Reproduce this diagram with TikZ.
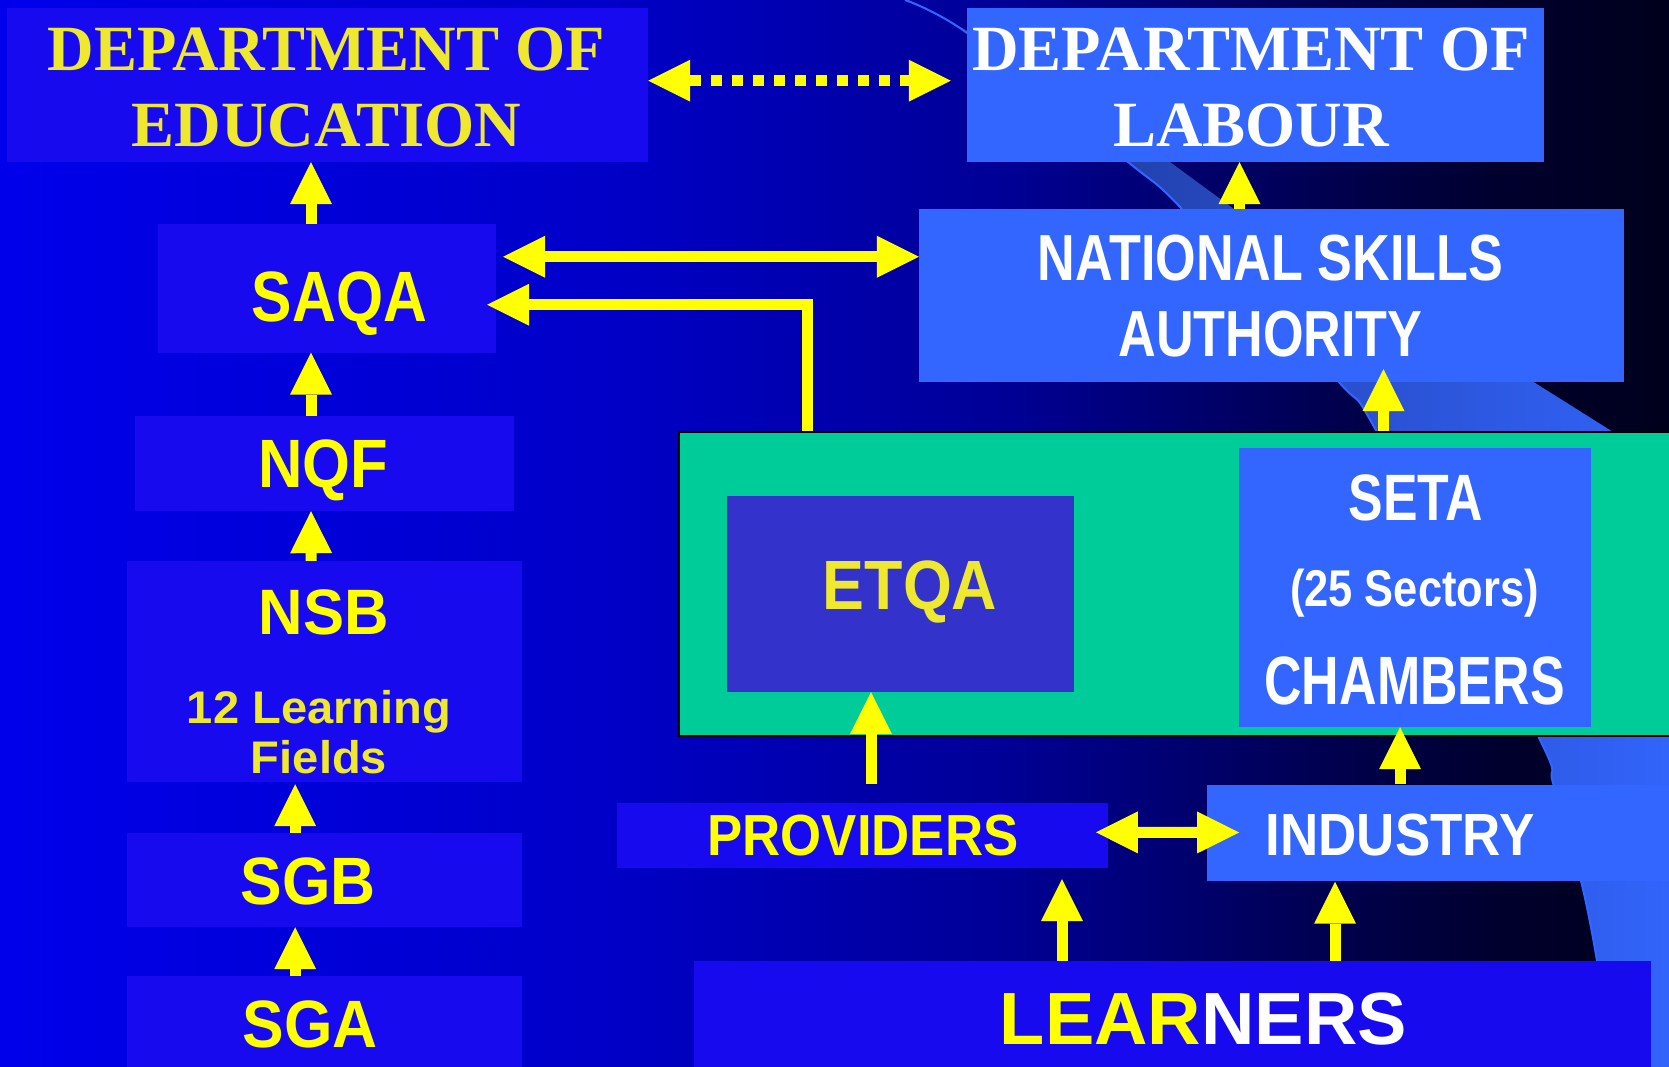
\documentclass[tikz,border=0pt]{standalone}
\usepackage{fontspec}
\setmainfont{Liberation Serif}
\setsansfont{Liberation Sans}
\usetikzlibrary{arrows.meta}

\definecolor{boxdark}{RGB}{24,10,238}
\definecolor{boxlight}{RGB}{51,102,255}
\definecolor{etqablue}{RGB}{51,51,204}
\definecolor{framegreen}{RGB}{0,204,153}
\definecolor{arrowyellow}{RGB}{255,255,0}
\definecolor{paleyellow}{RGB}{238,232,46}
\definecolor{swooshdark}{RGB}{28,52,144}
\definecolor{bgA}{RGB}{0,0,235}
\definecolor{bgB}{RGB}{0,0,200}
\definecolor{bgC}{RGB}{0,0,150}
\definecolor{bgD}{RGB}{0,0,85}
\definecolor{bgE}{RGB}{0,0,45}
\definecolor{bgF}{RGB}{0,0,28}

% blue to near black, left to right
\pgfdeclarehorizontalshading{slidebg}{100bp}{color(0bp)=(bgA); color(25bp)=(bgA);
  color(43bp)=(bgB); color(55bp)=(bgC); color(64bp)=(bgD); color(70bp)=(bgE);
  color(75bp)=(bgF); color(100bp)=(bgF)}

% size, line skip, horizontal stretch
\newcommand\boxfont[3]{\sffamily\bfseries\fontsize{#1}{#2}\selectfont\addfontfeatures{FakeStretch=#3}}

\tikzset{
  darkbox/.style={fill=boxdark, inner sep=0pt},
  lightbox/.style={fill=boxlight, inner sep=0pt},
  yellowflow/.style={draw=arrowyellow, line width=11pt, line join=miter},
  boxtext/.style={inner sep=0pt, align=center},
}

\begin{document}
\begin{tikzpicture}[x=1pt, y=-1pt, >={Triangle[length=42pt,width=42pt,line width=0pt]}]
\useasboundingbox (0,0) rectangle (1669,1067);
\clip (0,0) rectangle (1669,1067);

% backdrop and swoosh
\fill[shading=slidebg] (0,0) rectangle (1669,1067);
\fill[left color=swooshdark, right color=boxlight]
  plot[smooth] coordinates {(905,0) (967,33) (1128,162) (1182,209) (1338,381) (1377,432)
    (1538,736) (1553,783) (1581,881) (1597,961) (1612,1067)}
  -- (1700,1067) -- (1700,487) -- (1613,432) -- (1532,381) -- (1234,209)
  -- (1170,162) -- (968,31) -- (909,0) -- cycle;
\draw[boxlight, line width=2pt]
  plot[smooth] coordinates {(905,0) (967,33) (1128,162) (1182,209) (1338,381) (1377,432)
    (1538,736) (1553,783) (1581,881) (1597,961) (1612,1067)};

% boxes
\node[darkbox, minimum width=641pt, minimum height=154pt] (deped) at (327.5,85) {};
\node[lightbox, minimum width=577pt, minimum height=154pt] (labour) at (1255.5,85) {};
\node[darkbox, minimum width=338.5pt, minimum height=128.5pt] (saqa) at (326.75,288.25) {};
\node[lightbox, minimum width=705pt, minimum height=172.5pt] (nsa) at (1271.5,295.25) {};
\node[darkbox, minimum width=379pt, minimum height=95pt] (nqf) at (324.5,463.5) {};
\node[darkbox, minimum width=395pt, minimum height=221pt] (nsb) at (324.15,671.5) {};
\node[darkbox, minimum width=395pt, minimum height=94pt] (sgb) at (324.15,880) {};
\node[darkbox, minimum width=395pt, minimum height=114pt] (sga) at (324.15,1033) {};
\node[fill=framegreen, draw=black, line width=2pt, inner sep=0pt,
      minimum width=1021pt, minimum height=304pt] (sectors) at (1189.5,584) {};
\node[fill=etqablue, inner sep=0pt, minimum width=347pt, minimum height=196pt] (etqa) at (900.5,594) {};
\node[lightbox, minimum width=352pt, minimum height=279pt] (seta) at (1415,587.5) {};
\node[darkbox, minimum width=491pt, minimum height=65pt] (providers) at (862.5,835) {};
\node[lightbox, minimum width=493pt, minimum height=96pt] (industry) at (1453.5,832.5) {};
\node[darkbox, minimum width=957pt, minimum height=129pt] (learners) at (1172.5,1025.5) {};

% arrows
\draw[yellowflow, <->, dash pattern=on 11pt off 10pt]
  ([yshift=4.3pt]deped.east) -- ([xshift=-16pt,yshift=4.3pt]labour.west);
\draw[yellowflow, <->] ([xshift=7pt,yshift=31.5pt]saqa.east) -- ([yshift=38.5pt]nsa.west);
\draw[yellowflow, ->] ([xshift=-382.5pt]sectors.north) |- ([xshift=-9pt,yshift=-16.5pt]saqa.east);
\draw[yellowflow, ->] ([xshift=-15.75pt]saqa.north) -- ([xshift=-16.5pt]deped.south);
\draw[yellowflow, ->] ([xshift=-13.5pt]nqf.north) -- ([xshift=-15.75pt]saqa.south);
\draw[yellowflow, ->] ([xshift=-13pt]nsb.north) -- ([xshift=-13.5pt]nqf.south);
\draw[yellowflow, ->] ([xshift=-29pt]sgb.north) -- ([xshift=-29pt,yshift=-2pt]nsb.south);
\draw[yellowflow, ->] ([xshift=-29pt]sga.north) -- ([xshift=-29pt]sgb.south);
\draw[yellowflow, ->] ([xshift=-32pt]nsa.north) -- ([xshift=-16pt]labour.south);
\draw[yellowflow, ->] ([xshift=194pt]sectors.north) -- ([xshift=112pt,yshift=12.5pt]nsa.south);
\draw[yellowflow, ->] ([xshift=8.5pt,yshift=18.5pt]providers.north) -- ([xshift=-29.5pt]etqa.south);
\draw[yellowflow, ->] ([xshift=-53.5pt]industry.north) -- ([xshift=-15pt]seta.south);
\draw[yellowflow, <->] ([xshift=-12.3pt,yshift=2.7pt]providers.east) -- ([xshift=32.3pt]industry.west);
\draw[yellowflow, ->] ([xshift=-110.5pt]learners.north) -- ([xshift=199.5pt,yshift=-11.5pt]providers.south);
\draw[yellowflow, ->] ([xshift=162.5pt]learners.north) -- ([xshift=-118.5pt,yshift=-1pt]industry.south);

% labels
\node[boxtext, text=paleyellow, font={\bfseries\fontsize{64.5}{76}\selectfont}]
  (deped-name) at (326.5,87.5) {DEPARTMENT OF\\EDUCATION};
\node[boxtext, text=white, font={\bfseries\fontsize{64.5}{76}\selectfont}]
  (labour-name) at (1251,87.5) {DEPARTMENT OF\\LABOUR};
\node[boxtext, text=white, font={\boxfont{65.2}{75.3}{0.8}}]
  (nsa-name) at (1270.5,296) {NATIONAL SKILLS\\AUTHORITY};
\node[boxtext, text=arrowyellow, font={\boxfont{71.3}{80}{0.85}}] (saqa-name) at (339.5,304) {SAQA};
\node[boxtext, text=arrowyellow, font={\boxfont{68.4}{80}{0.9}}] (nqf-name) at (323.5,470) {NQF};
\node[boxtext, text=arrowyellow, font={\boxfont{64.2}{80}{0.96}}] (nsb-name) at (324,612) {NSB};
\node[boxtext, text=paleyellow, font={\boxfont{45.7}{50.3}{1.03}}]
  (nsb-fields) at (319,732) {12 Learning\\Fields};
\node[boxtext, text=arrowyellow, font={\boxfont{67}{80}{0.93}}] (sgb-name) at (308,881) {SGB};
\node[boxtext, text=arrowyellow, font={\boxfont{67}{80}{0.93}}] (sga-name) at (310,1024.5) {SGA};
\node[boxtext, text=paleyellow, font={\boxfont{69.8}{80}{0.9}}] (etqa-name) at (910,592) {ETQA};
\node[boxtext, text=white, font={\boxfont{65.6}{80}{0.79}}] (seta-name) at (1416,498.2) {SETA};
\node[boxtext, text=white, font={\boxfont{51.7}{60}{0.84}}] (seta-sectors) at (1414.5,593) {(25 Sectors)};
\node[boxtext, text=white, font={\boxfont{68.4}{80}{0.76}}] (seta-chambers) at (1414.6,681.2) {CHAMBERS};
\node[boxtext, text=arrowyellow, font={\boxfont{58}{70}{0.91}}] (providers-name) at (863,836) {PROVIDERS};
\node[boxtext, text=white, font={\boxfont{59.5}{70}{0.89}}] (industry-name) at (1400,835.5) {INDUSTRY};
\node[boxtext, text=white, font={\boxfont{74}{80}{1}}]
  (learners-name) at (1203.4,1019.5) {\textcolor{arrowyellow}{LEAR}NERS};
\end{tikzpicture}
\end{document}
